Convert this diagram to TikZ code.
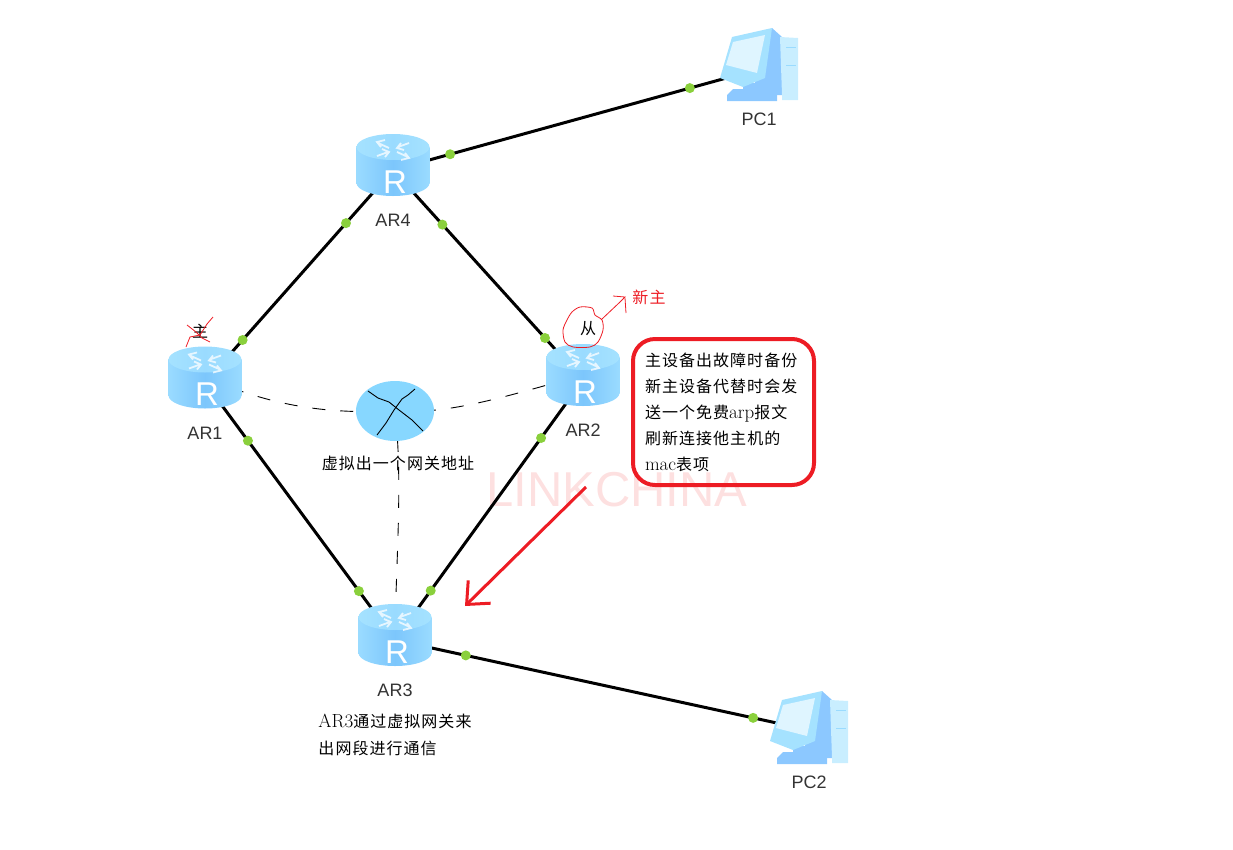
\documentclass[tikz,border=0pt]{standalone}
\usepackage{fontspec}
\usetikzlibrary{positioning, arrows.meta, backgrounds, shapes.geometric}
\newfontfamily\cjk[LetterSpace=6.5]{Noto Sans CJK SC}
\newfontfamily\arialfont{Liberation Sans}
\definecolor{iconblue}{HTML}{7CC6FC}
\definecolor{iconedge}{HTML}{9ADBFF}
\definecolor{icontop}{HTML}{A5E2FF}
\definecolor{iconpale}{HTML}{C9EEFF}
\definecolor{icondark}{HTML}{8CC8FF}
\definecolor{cloudblue}{HTML}{87D7FF}
\definecolor{portgreen}{HTML}{8AD03C}
\definecolor{markred}{HTML}{ED1C24}
\definecolor{labelgray}{HTML}{333333}
\definecolor{markpink}{HTML}{FDE0E0}
\newcommand{\zh}[1]{{\cjk #1}}
\newcommand{\lat}[1]{{\fontsize{19}{26}\selectfont #1}}
\newcommand{\routerart}{%
  \begin{scope}[shift={(path picture bounding box.center)}]
    \shade[left color=iconedge, right color=iconedge, middle color=iconblue] (0,18) ellipse [x radius=36.5, y radius=13];
    \shade[left color=iconedge, right color=iconedge, middle color=iconblue] (-36.5,-18) rectangle (36.5,18);
    \shade[left color=icontop, right color=icontop, middle color=iconedge] (0,-18) ellipse [x radius=36.5, y radius=13];
    \draw[white, opacity=.75, line width=1.8pt]
      (-4,-17) -- (-15,-22) (-8,-25) -- (-16,-23) -- (-12,-18)
      (16,-22) -- (5,-18) (11,-15) -- (4,-17) -- (8,-22)
      (-16,-9) -- (-5,-13) (-11,-16) -- (-4,-13) -- (-8,-8)
      (4,-13) -- (15,-8) (8,-5) -- (16,-7) -- (12,-12);
  \end{scope}}
\newcommand{\pcart}{%
  \begin{scope}[shift={(path picture bounding box.center)}]
    \fill[icondark] (13,-37) -- (23,-28) -- (23,30) -- (-4,30) -- (-4,10) -- cycle;
    \fill[iconpale] (21,-28) -- (39,-27) -- (39,35) -- (23,35) -- (23,30) -- cycle;
    \draw[iconedge, line width=1pt] (27,-18) -- (37,-18) (27,0) -- (37,0);
    \fill[icondark] (-32,30) -- (-26,24) -- (-16,24) -- (-16,18) -- (-4,18) -- (-4,24) -- (18,30) -- (18,36) -- (-32,36) -- cycle;
    \fill[icontop] (-27,-28) -- (13,-37) -- (6,13) -- (-16,22) -- (-39,13) -- cycle;
    \fill[iconpale!60!white] (-26,-23) -- (6,-30) -- (-2,8) -- (-33,0) -- cycle;
  \end{scope}}
\tikzset{
  routerbox/.style={inner sep=0pt, minimum width=74pt, minimum height=63pt, path picture={\routerart}, label={[rglyph]center:R}},
  rglyph/.style={inner sep=0pt, text=white, yshift=-17pt, xshift=2pt, font=\arialfont\fontsize{33}{33}\selectfont},
  pcbox/.style={inner sep=0pt, minimum width=80pt, minimum height=76pt, path picture={\pcart}},
  devlabel/.style={inner sep=0pt, text=labelgray, font=\arialfont\fontsize{18}{18}\selectfont},
  zhlabel/.style={inner sep=0pt, align=left, font=\fontsize{16}{27}\selectfont},
  link/.style={line width=3pt, line cap=round},
  portdot/.style={circle, fill=portgreen, inner sep=0pt, minimum size=10pt},
  vipline/.style={line width=.9pt, dash pattern=on 13pt off 15pt},
  scribble/.style={markred, line width=.8pt},
  crossline/.style={line width=.9pt},
}
\begin{document}
\begin{tikzpicture}[x=1pt, y=-1pt, node distance=17.5pt]
	\useasboundingbox (0,0) rectangle (1233,849);

	\node[routerbox]                         (AR4)   at (393,165)   {};
	\node[routerbox]                         (AR1)   at (205,377.5) {};
	\node[routerbox]                         (AR2)   at (583,375)   {};
	\node[routerbox]                         (AR3)   at (395,635)   {};
	\node[pcbox]                             (PC1)   at (759,65)    {};
	\node[pcbox]                             (PC2)   at (809,728)   {};

	\node[devlabel, below=of AR4]            (AR4text) {AR4};
	\node[devlabel, below=of AR1]            (AR1text) {AR1};
	\node[devlabel, below=of AR2]            (AR2text) {AR2};
	\node[devlabel, below=of AR3]            (AR3text) {AR3};
	\node[devlabel, below=10pt of PC1]       (PC1text) {PC1};
	\node[devlabel, below=10pt of PC2]       (PC2text) {PC2};

	\node[ellipse, fill=cloudblue, inner sep=0pt, minimum width=78pt, minimum height=60pt] (vip) at (395,411) {};
	\node[zhlabel, below=15pt of vip, xshift=3pt] (viptext) {\zh{虚拟出一个网关地址}};
	\node[zhlabel, below=16.5pt of AR3text]  (AR3note) {\lat{AR3}\zh{通过虚拟网关来}\\\zh{出网段进行通信}};

	\node[zhlabel, text=black] (master) at (200,331) {\zh{主}};
	\node[zhlabel, text=black] (backup) at (588,329) {\zh{从}};
	\node[zhlabel, text=markred] (newmaster) at (649,297) {\zh{新主}};

	\node[draw=markred, line width=4pt, rounded corners=22pt, minimum width=181pt, minimum height=146pt, inner sep=0pt, text width=157pt, align=left, font=\fontsize{16}{26}\selectfont] (tip) at (723.5,412)
		{\zh{主设备出故障时备份}\\\zh{新主设备代替时会发}\\\zh{送一个免费}\lat{arp}\zh{报文}\\\zh{刷新连接他主机的}\\\lat{mac}\zh{表项}};

	\begin{scope}[on background layer]
		\node[inner sep=0pt, text=markpink, font=\arialfont\fontsize{49}{49}\selectfont] (logo) at (617,490) {LINKCHINA};

		\draw[link] ([yshift=-5pt]AR4.center) -- node[portdot, pos=.25] (p41) {} node[portdot, pos=.8] (p14) {} ([yshift=-5pt]AR1.center);
		\draw[link] ([yshift=-5pt]AR4.center) -- node[portdot, pos=.26] (p42) {} node[portdot, pos=.8] (p24) {} ([yshift=-5pt]AR2.center);
		\draw[link] ([yshift=-5pt]AR1.center) -- node[portdot, pos=.226] (p13) {} node[portdot, pos=.81] (p31) {} ([yshift=-5pt]AR3.center);
		\draw[link] ([yshift=-5pt]AR2.center) -- node[portdot, pos=.223] (p23) {} node[portdot, pos=.81] (p32) {} ([yshift=-5pt]AR3.center);
		\draw[link] ([yshift=-5pt]AR4.center) -- node[portdot, pos=.156] (p4pc) {} node[portdot, pos=.811] (ppc1) {} ([yshift=-4pt]PC1.center);
		\draw[link] ([yshift=-5pt]AR3.center) -- node[portdot, pos=.171] (p3pc) {} node[portdot, pos=.865] (ppc2) {} ([yshift=-2pt]PC2.center);

		\draw[vipline] (AR1.center) .. controls (260,400) and (310,415) .. (vip.center);
		\draw[vipline] (vip.center) .. controls (450,415) and (510,395) .. (AR2.center);
		\draw[vipline] (vip.center) .. controls (403,480) and (396,560) .. (AR3.center);
	\end{scope}

	% X on the cloud
	\draw[crossline] (368,391) -- (378,398) -- (389,402) -- (399,410) -- (412,420) -- (423,431);
	\draw[crossline] (415,389) -- (408,395) -- (402,399) -- (394,410) -- (386,423) -- (377,435);

	% red marks
	\draw[scribble] (187,325) -- (196,332) -- (202,338) -- (210,342);
	\draw[scribble] (213,317) -- (207,324) -- (200,335) -- (190,337) -- (186,347);
	\draw[scribble] plot[smooth cycle] coordinates {(572,312) (580,307) (592,308) (595,315) (602,320) (603,330) (598,342) (590,347) (573,347) (565,342) (563,330) (567,320)};
	\draw[scribble] (602,319) -- (620,302) -- (625,297) -- (613,296);
	\draw[scribble] (625,298) -- (626,313);

	\coordinate (tiptail) at (586,487);
	\coordinate (tiphead) at (465,606);
	\draw[markred, line width=3pt, -{Straight Barb[length=18pt, width=32pt]}] (tiptail) -- (tiphead);
\end{tikzpicture}
\end{document}
